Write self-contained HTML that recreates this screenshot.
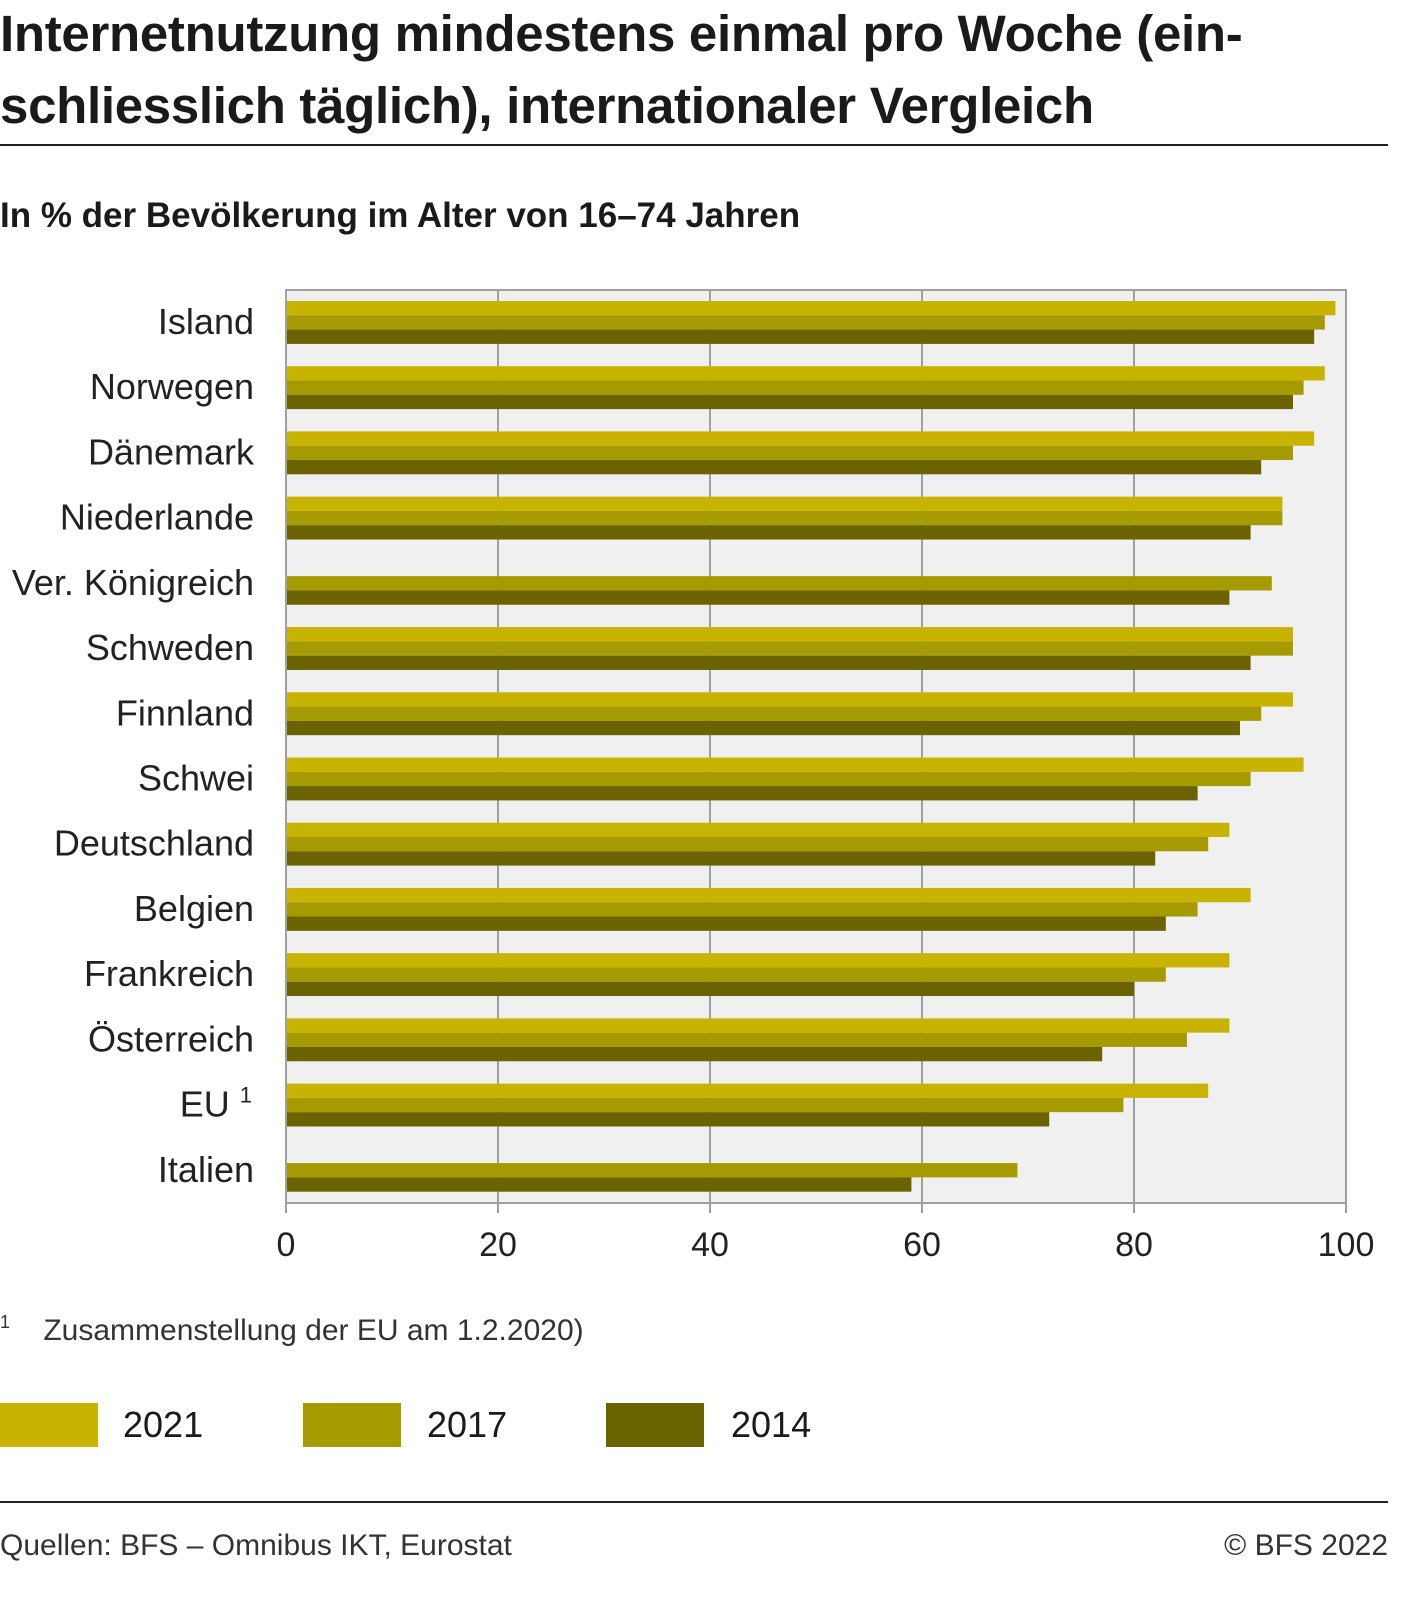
<!DOCTYPE html>
<html><head><meta charset="utf-8">
<style>
body{margin:0;width:1428px;height:1613px;background:#fff;font-family:"Liberation Sans",sans-serif;color:#1a1a1a;overflow:hidden}
.t{position:absolute;left:0;top:-2px;font-weight:bold;font-size:51px;line-height:72px;letter-spacing:-0.3px}
</style></head><body>
<div class="t">Internetnutzung mindestens einmal pro Woche (ein-<br>schliesslich täglich), internationaler Vergleich</div>
<div style="position:absolute;left:0;top:144px;width:1388px;height:2px;background:#222"></div>
<div style="position:absolute;left:0;top:196px;font-weight:bold;font-size:35px">In % der Bevölkerung im Alter von 16–74 Jahren</div>
<svg id="chart" width="1428" height="1300" style="position:absolute;left:0;top:0" xmlns="http://www.w3.org/2000/svg"></svg>
<div style="position:absolute;left:0;top:1312px;font-size:30px;color:#333"><sup style="font-size:18px;vertical-align:12px">1</sup>&nbsp;&nbsp;&nbsp;&nbsp;Zusammenstellung der EU am 1.2.2020)</div>
<div>
<div style="position:absolute;left:0;top:1403px;width:98px;height:44px;background:#c8b400"></div>
<div style="position:absolute;left:123px;top:1404px;font-size:36px">2021</div>
<div style="position:absolute;left:303px;top:1403px;width:98px;height:44px;background:#a59a00"></div>
<div style="position:absolute;left:427px;top:1404px;font-size:36px">2017</div>
<div style="position:absolute;left:606px;top:1403px;width:98px;height:44px;background:#6b6200"></div>
<div style="position:absolute;left:731px;top:1404px;font-size:36px">2014</div>
</div>
<div style="position:absolute;left:0;top:1501px;width:1388px;height:2px;background:#222"></div>
<div style="position:absolute;left:0;top:1529px;font-size:30px;color:#333">Quellen: BFS – Omnibus IKT, Eurostat</div>
<div style="position:absolute;right:40px;top:1529px;font-size:30px;color:#333">© BFS 2022</div>
<script>
const categories=["Island","Norwegen","Dänemark","Niederlande","Ver. Königreich","Schweden","Finnland","Schwei","Deutschland","Belgien","Frankreich","Österreich","EU","Italien"];
const v2021=[99,98,97,94,null,95,95,96,89,91,89,89,87,null];
const v2017=[98,96,95,94,93,95,92,91,87,86,83,85,79,69];
const v2014=[97,95,92,91,89,91,90,86,82,83,80,77,72,59];
const ticks=[0,20,40,60,80,100];
const NS="http://www.w3.org/2000/svg";
const svg=document.getElementById('chart');
const L=286,R=1346,T=290,B=1203;
const x=v=>L+(R-L)*v/100;
const band=(B-T)/categories.length;
function el(t,a){const e=document.createElementNS(NS,t);for(const k in a)e.setAttribute(k,a[k]);svg.appendChild(e);return e;}
const bg=el('rect',{x:L,y:T,width:R-L,height:B-T,fill:'#f0f0f0'});


ticks.forEach(t=>{
 const g=el('line',{x1:x(t),x2:x(t),y1:T,y2:B+10,stroke:'#a0a0a0','stroke-width':2});
 
 
 const tx=el('text',{x:x(t),y:1256,'text-anchor':'middle','font-size':34,fill:'#222','font-family':'Liberation Sans, sans-serif'});
 tx.textContent=t;
 
 
});
const series=[[v2021,'#c8b400','2021'],[v2017,'#a59a00','2017'],[v2014,'#6b6200','2014']];
categories.forEach((c,i)=>{
 const y0=T+band*i+11;
 series.forEach((s,j)=>{
  const v=s[0][i];if(v==null)return;
  const r=el('rect',{x:L,y:y0+j*14.3,width:x(v)-L,height:14.3,fill:s[1]});
  
  
 });
 const t=el('text',{x:254,y:y0+33,'text-anchor':'end','font-size':36,fill:'#222','font-family':'Liberation Sans, sans-serif'});
 t.textContent=c;
 if(c==="EU"){const s=document.createElementNS(NS,'tspan');s.setAttribute('font-size',22);s.setAttribute('dy',-14);s.setAttribute('dx',10);s.textContent='1';t.appendChild(s);t.setAttribute('x',252);}
 
 
});
const fr=el('rect',{x:L,y:T,width:R-L,height:B-T,fill:'none',stroke:'#a0a0a0','stroke-width':2});


</script>
</body></html>
